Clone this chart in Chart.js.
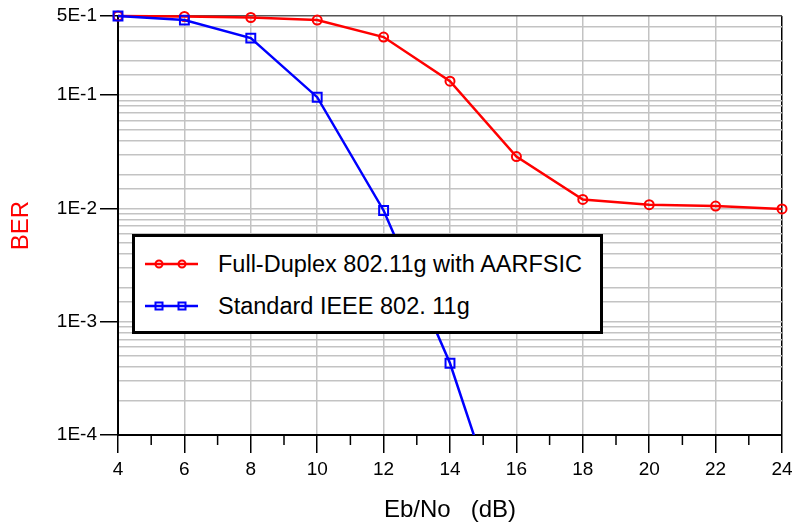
<!DOCTYPE html>
<html><head><meta charset="utf-8">
<script src="https://cdn.jsdelivr.net/npm/chart.js@4.4.1/dist/chart.umd.min.js"></script>
<style>
html,body{margin:0;padding:0;background:#fff;}
#wrap{position:relative;width:792px;height:530px;}
#legend{position:absolute;left:132px;top:234px;width:471px;height:100px;box-sizing:border-box;border:3px solid #000;background:#fff;font-family:"Liberation Sans",Arial,sans-serif;font-size:23.5px;color:#000;}
.row{position:absolute;left:0;height:30px;display:flex;align-items:center;white-space:nowrap;}
.row svg{margin-left:10px;margin-right:20px;}
</style></head><body>
<div id="wrap"><canvas id="c" width="792" height="530"></canvas>
<div id="legend"></div></div>
<script>
// ---- data ----
const ebNoFullDuplex = [4, 6, 8, 10, 12, 14, 16, 18, 20, 22, 24];
const berFullDuplex = [0.5, 0.495, 0.485, 0.46, 0.326, 0.133, 0.0287, 0.0120, 0.0108, 0.0105, 0.0099];
const ebNoStandard = [4, 6, 8, 10, 12, 14, 16];
const berStandard = [0.5, 0.46, 0.319, 0.096, 0.0096, 0.00043, 0.0000074];
const seriesNames = ['Full-Duplex 802.11g with AARFSIC', 'Standard IEEE 802. 11g'];
const yTickValues = [0.5, 0.1, 0.01, 0.001, 0.0001];
const yTickLabels = ['5E-1', '1E-1', '1E-2', '1E-3', '1E-4'];
const xTickLabels = ['4', '6', '8', '10', '12', '14', '16', '18', '20', '22', '24'];

const FONT = '"Liberation Sans", Arial, sans-serif';
const TRANSPARENT = 'rgba(0,0,0,0)';
const GRID = '#c3c3c3';

function yLabel(v) {
  const i = yTickValues.findIndex(t => Math.abs(t - v) / t < 1e-6);
  return i >= 0 ? yTickLabels[i] : '';
}
function xLabel(v) {
  if (v === null || v === undefined) return '';
  const s = String(Math.round(v));
  return (Math.abs(v - Math.round(v)) < 1e-9 && xTickLabels.includes(s)) ? s : '';
}
function tickVal(ctx) { return ctx && ctx.tick ? ctx.tick.value : null; }

const clipArea = {left: 10, top: 10, right: 10, bottom: 0};

const datasets = [
  {
    label: seriesNames[0],
    data: ebNoFullDuplex.map((x, i) => ({x, y: berFullDuplex[i]})),
    borderColor: '#ff0000', backgroundColor: TRANSPARENT,
    borderWidth: 2.5, pointStyle: 'circle', pointRadius: 4.5, pointBorderWidth: 2,
    pointBackgroundColor: TRANSPARENT, pointBorderColor: '#ff0000',
    tension: 0, clip: clipArea, order: 1
  },
  {
    label: seriesNames[1],
    data: ebNoStandard.map((x, i) => ({x, y: berStandard[i]})),
    borderColor: '#0000ff', backgroundColor: TRANSPARENT,
    borderWidth: 2.5, pointStyle: 'rect', pointRadius: 6.3, pointBorderWidth: 2,
    pointBackgroundColor: TRANSPARENT, pointBorderColor: '#0000ff',
    tension: 0, clip: clipArea, order: 0
  }
];

const minorTicks = {
  id: 'minorTicks',
  afterDraw(chart) {
    const xs = chart.scales.x;
    const c = chart.ctx;
    c.save();
    c.strokeStyle = '#000';
    c.lineWidth = 1.5;
    xs.ticks.forEach(t => {
      if (xLabel(t.value) === '') {
        const px = xs.getPixelForValue(t.value);
        c.beginPath();
        c.moveTo(px, chart.chartArea.bottom);
        c.lineTo(px, chart.chartArea.bottom + 10);
        c.stroke();
      }
    });
    c.restore();
  }
};

new Chart(document.getElementById('c'), {
  type: 'line',
  data: {datasets},
  options: {
    responsive: false, animation: false, devicePixelRatio: 1,
    layout: {padding: {top: 16, right: 10, left: 0, bottom: 0}},
    plugins: {legend: {display: false}, tooltip: {enabled: false}},
    scales: {
      x: {
        type: 'linear', min: 4, max: 24,
        afterFit: s => { s.height = 95; s.paddingRight = 0; s.paddingLeft = 0; },
        border: {display: true, color: '#000', width: 2},
        grid: {
          color: ctx => { const v = tickVal(ctx); if (v === 24) return '#000'; return xLabel(v) ? GRID : TRANSPARENT; },
          lineWidth: 1.5,
          tickColor: ctx => xLabel(tickVal(ctx)) ? '#000' : TRANSPARENT,
          tickLength: 18, tickWidth: 1.5
        },
        ticks: {
          stepSize: 1, autoSkip: false, maxRotation: 0, padding: 5,
          color: '#000', font: {family: FONT, size: 19},
          callback: v => xLabel(v)
        },
        title: {display: true, text: 'Eb/No   (dB)', color: '#000',
          font: {family: FONT, size: 24, lineHeight: 1.2}, padding: {top: 0, bottom: 5}}
      },
      y: {
        type: 'logarithmic', min: 0.0001, max: 0.5,
        afterFit: s => { s.width = 118; s.paddingTop = 0; s.paddingBottom = 0; },
        border: {display: true, color: '#000', width: 2},
        grid: {
          color: ctx => { const v = tickVal(ctx); return (v !== null && Math.abs(v - 0.5) < 1e-9) ? '#555' : GRID; },
          lineWidth: 1.5,
          tickColor: ctx => yLabel(tickVal(ctx)) ? '#000' : TRANSPARENT,
          tickLength: 18, tickWidth: 1.5
        },
        ticks: {
          autoSkip: false, padding: 3, color: '#000', font: {family: FONT, size: 19},
          callback: v => yLabel(v)
        },
        title: {display: true, text: 'BER', color: '#ff0000',
          font: {family: FONT, size: 24, lineHeight: 1.2}, padding: {top: 7, bottom: 0}}
      }
    }
  },
  plugins: [minorTicks]
});

// ---- legend (HTML overlay, built from the datasets) ----
const legend = document.getElementById('legend');
const rowCenters = [27, 69];
datasets.forEach((ds, i) => {
  const row = document.createElement('div');
  row.className = 'row';
  row.style.top = (rowCenters[i] - 15) + 'px';
  const col = ds.borderColor;
  const marker = ds.pointStyle === 'circle'
    ? (cx => `<circle cx="${cx}" cy="8" r="3.5" fill="none" stroke="${col}" stroke-width="2"/>`)
    : (cx => `<rect x="${cx - 3.5}" y="4.5" width="7" height="7" fill="none" stroke="${col}" stroke-width="2"/>`);
  row.innerHTML = `<svg width="53" height="16" viewBox="0 0 53 16"><line x1="0" y1="8" x2="53" y2="8" stroke="${col}" stroke-width="2.5"/>${marker(14)}${marker(37)}</svg><span>${ds.label}</span>`;
  legend.appendChild(row);
});
</script>
</body></html>
